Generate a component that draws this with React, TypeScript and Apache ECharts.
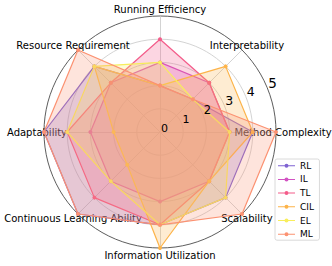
import React, { useEffect, useRef } from "react";
import * as echarts from "echarts";

// Indicators in counter-clockwise order starting at the top
const indicators = [
  "Running Efficiency",
  "Resource Requirement",
  "Adaptability",
  "Continuous Learning Ability",
  "Information Utilization",
  "Scalability",
  "Method Complexity",
  "Interpretability",
];
const seriesNames = ["RL", "IL", "TL", "CIL", "EL", "ML"];
const rlValues = [2, 4, 5, 5, 4, 4, 4, 2];
const ilValues = [3, 3, 3, 3, 3, 3, 3, 3];
const tlValues = [4, 3, 4, 4, 4, 3, 3, 3];
const cilValues = [2, 4, 2, 2, 5, 3, 4, 4];
const elValues = [3, 4, 4, 3, 4, 4, 3, 2];
const mlValues = [2, 5, 5, 5, 4, 5, 5, 2];
const allValues = [rlValues, ilValues, tlValues, cilValues, elValues, mlValues];
const radialTicks = [0, 1, 2, 3, 4, 5];

const colors = ["#7f63d2", "#d253c2", "#f45c8a", "#fdb44a", "#f8ee5c", "#fc9272"];
const FONT = "DejaVu Sans";

export default function App() {
  const ref = useRef<HTMLDivElement>(null);
  useEffect(() => {
    if (!ref.current) return;
    const chart = echarts.init(ref.current, undefined, { renderer: "svg" });
    const cx = 160;
    const cy = 132;
    const R = 116;
    const rich: Record<string, any> = {};
    const sizes = [11, 11, 11.5, 12.5, 12.5, 13.5];
    radialTicks.forEach((t, i) => {
      rich["a" + t] = { fontSize: sizes[i], fontFamily: FONT, color: "#000" };
    });
    const legendIcon =
      "path://M0,1.5 L17,1.5 L17,2.5 L0,2.5 Z M10.5,2 A2,2 0 1,1 6.5,2 A2,2 0 1,1 10.5,2 Z";
    chart.setOption({
      animation: false,
      legend: {
        data: seriesNames,
        orient: "vertical",
        left: 275,
        top: 159,
        icon: legendIcon,
        itemWidth: 17,
        itemHeight: 4,
        itemGap: 3.7,
        padding: [1.7, 5.5, 1, 3],
        borderColor: "#d0d0d0",
        borderWidth: 0.8,
        borderRadius: 2,
        backgroundColor: "rgba(255,255,255,0.85)",
        textStyle: { fontSize: 9, fontFamily: FONT, color: "#000", lineHeight: 10 },
        z: 20,
      },
      radar: {
        center: [cx, cy],
        radius: R,
        startAngle: 90,
        shape: "circle",
        splitNumber: 5,
        nameGap: 7,
        indicator: indicators.map((n) => ({ name: n, min: 0, max: 5 })),
        axisName: {
          color: "#000",
          fontSize: 10,
          fontFamily: FONT,
          align: "center",
          verticalAlign: "middle",
        },
        axisLine: { lineStyle: { color: "#c8c8c8", width: 0.8 } },
        splitLine: {
          lineStyle: {
            color: ["#c8c8c8", "#c8c8c8", "#c8c8c8", "#c8c8c8", "#c8c8c8", "#333333"],
            width: 0.8,
          },
        },
        splitArea: { show: false },
      },
      polar: { center: [cx + 1, cy + 2], radius: R },
      angleAxis: { type: "value", min: 0, max: 360, startAngle: 22.5, show: false },
      radiusAxis: {
        type: "value",
        min: 0,
        max: 5,
        interval: 1,
        z: 10,
        axisLine: { show: false },
        axisTick: { show: false },
        splitLine: { show: false },
        axisLabel: {
          margin: 0,
          align: "left",
          verticalAlign: "bottom",
          formatter: (v: number) => `{a${v}|${v}}`,
          rich,
        },
      },
      series: seriesNames.map((n, i) => ({
        type: "radar",
        name: n,
        z: 2 + i,
        symbol: "circle",
        symbolSize: 4,
        lineStyle: { color: colors[i], width: 1.2 },
        itemStyle: { color: colors[i] },
        areaStyle: { color: colors[i], opacity: 0.25 },
        data: [{ value: allValues[i], name: n }],
      })),
    });
    return () => chart.dispose();
  }, []);
  return (
    <div
      ref={ref}
      style={{ position: "fixed", left: 0, top: 0, width: 332, height: 266, background: "#fff" }}
    />
  );
}
